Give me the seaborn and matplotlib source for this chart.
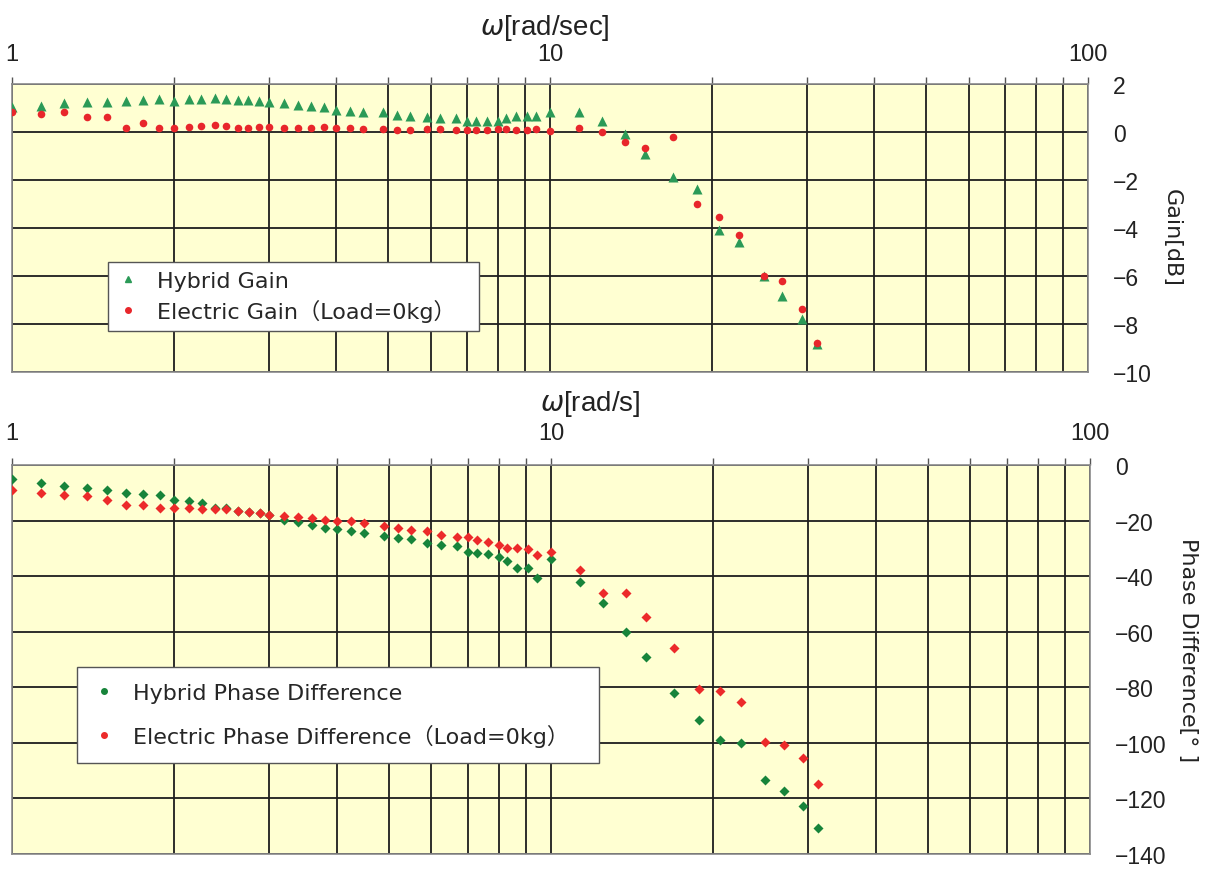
import matplotlib
matplotlib.use("Agg")
import matplotlib.pyplot as plt
from matplotlib.lines import Line2D
from matplotlib.ticker import FixedLocator, NullFormatter, FixedFormatter
import numpy as np
import pandas as pd
import seaborn as sns

# Angular frequency of each measurement [rad/s]
omega = [1.0, 1.13, 1.25, 1.38, 1.5, 1.63, 1.75, 1.88, 2.0, 2.13, 2.25, 2.38, 2.5,
         2.63, 2.75, 2.88, 3.0, 3.2, 3.4, 3.6, 3.8, 4.0, 4.25, 4.5, 4.9, 5.2, 5.5,
         5.9, 6.25, 6.7, 7.0, 7.3, 7.65, 8.0, 8.3, 8.65, 9.05, 9.4, 10.0, 11.3,
         12.5, 13.8, 15.0, 16.9, 18.8, 20.6, 22.5, 25.0, 27.0, 29.4, 31.3]

# Gain [dB]
hybrid_gain = [1.03, 1.10, 1.21, 1.26, 1.26, 1.28, 1.33, 1.37, 1.30, 1.37, 1.37, 1.42,
               1.37, 1.35, 1.33, 1.30, 1.26, 1.21, 1.12, 1.10, 1.05, 0.93, 0.86, 0.82,
               0.82, 0.70, 0.68, 0.61, 0.57, 0.57, 0.47, 0.47, 0.47, 0.47, 0.57, 0.65,
               0.65, 0.65, 0.82, 0.82, 0.44, -0.08, -0.92, -1.86, -2.37, -4.07, -4.60,
               -6.00, -6.85, -7.79, -8.83]
electric_gain = [0.82, 0.75, 0.82, 0.64, 0.61, 0.15, 0.37, 0.15, 0.15, 0.20, 0.26, 0.30,
                 0.26, 0.15, 0.15, 0.20, 0.22, 0.15, 0.15, 0.15, 0.20, 0.15, 0.15, 0.12,
                 0.12, 0.10, 0.10, 0.12, 0.12, 0.10, 0.10, 0.10, 0.10, 0.12, 0.12, 0.10,
                 0.10, 0.12, 0.05, 0.15, 0.01, -0.40, -0.68, -0.22, -3.00, -3.53, -4.28,
                 -6.01, -6.19, -7.37, -8.79]

# Phase difference [deg]
hybrid_phase = [-5.2, -6.4, -7.6, -8.2, -9.1, -10.2, -10.6, -10.9, -12.7, -12.9, -13.5,
                -15.3, -15.6, -16.6, -16.8, -17.4, -18.0, -19.8, -20.6, -21.6, -22.5,
                -23.1, -23.8, -24.5, -25.7, -26.3, -26.6, -28.1, -28.7, -29.2, -31.3,
                -31.6, -31.9, -33.0, -34.5, -37.2, -36.9, -40.5, -34.0, -42.2, -49.6,
                -60.1, -69.2, -81.9, -91.8, -99.1, -100.1, -113.3, -117.3, -122.6, -130.7]
electric_phase = [-8.9, -10.2, -10.9, -11.3, -12.7, -14.5, -14.5, -15.3, -15.3, -15.6,
                  -15.9, -15.9, -15.9, -16.6, -16.8, -17.4, -18.0, -18.2, -18.6, -18.9,
                  -19.8, -20.1, -20.0, -21.0, -21.8, -22.7, -23.3, -23.6, -25.3, -25.9,
                  -25.9, -27.1, -27.7, -28.9, -29.8, -29.7, -30.1, -32.5, -31.3, -37.8,
                  -46.1, -45.9, -54.6, -65.7, -80.7, -81.3, -85.2, -99.8, -100.9, -105.4,
                  -114.9]

gain_ticks = [2, 0, -2, -4, -6, -8, -10]
phase_ticks = [0, -20, -40, -60, -80, -100, -120, -140]
x_major = [1, 10, 100]
x_major_labels = ["1", "10", "100"]

df = pd.DataFrame({
    "omega": omega,
    "hybrid_gain": hybrid_gain,
    "electric_gain": electric_gain,
    "hybrid_phase": hybrid_phase,
    "electric_phase": electric_phase,
})

sns.set_theme(style="white")
plt.rcParams["font.family"] = ["Liberation Sans", "DejaVu Sans"]
plt.rcParams["axes.unicode_minus"] = True

W, H = 1210, 870
fig = plt.figure(figsize=(W / 100, H / 100), dpi=100)
fig.patch.set_facecolor("white")


def px_axes(left, top, right, bottom):
    return fig.add_axes([left / W, 1 - bottom / H, (right - left) / W, (bottom - top) / H])


ax1 = px_axes(12, 85, 1088, 373)
ax2 = px_axes(12, 466, 1090, 855)

minor_x = [v * d for d in (1, 10) for v in range(2, 10)]
wide = ["DejaVu Sans", "Noto Sans CJK JP"]

for ax, yticks, pad_top in ((ax1, gain_ticks, 9), (ax2, phase_ticks, 10)):
    ax.set_facecolor("#FFFFD2")
    ax.set_xscale("log")
    ax.set_xlim(1, 100)
    ax.set_ylim(min(yticks), max(yticks))
    ax.xaxis.set_major_locator(FixedLocator(x_major))
    ax.xaxis.set_major_formatter(FixedFormatter(x_major_labels))
    ax.xaxis.set_minor_locator(FixedLocator(minor_x))
    ax.xaxis.set_minor_formatter(NullFormatter())
    ax.xaxis.tick_top()
    ax.tick_params(axis="x", which="both", top=True, bottom=False, labeltop=True,
                   labelbottom=False, direction="out", length=5, width=1,
                   color="#555555", pad=pad_top, labelsize=17, labelcolor="#222222")
    ax.set_yticks(yticks)
    ax.yaxis.tick_right()
    ax.tick_params(axis="y", which="both", right=False, left=False, labelright=True,
                   labelleft=False, pad=12, labelsize=16.5, labelcolor="#222222")
    ax.grid(True, axis="x", which="both", color="#1e1e1e", lw=1.3)
    ax.grid(True, axis="y", which="major", color="#1e1e1e", lw=1.3)
    ax.set_axisbelow(True)
    for sp in ax.spines.values():
        sp.set_color("#8a8a8a")
        sp.set_linewidth(1.2)

# Gain panel
sns.scatterplot(data=df, x="omega", y="hybrid_gain", ax=ax1, marker="^", s=52,
                color="#2B9A57", linewidth=0, legend=False, zorder=3)
sns.scatterplot(data=df, x="omega", y="electric_gain", ax=ax1, marker="o", s=30,
                color="#E8262B", linewidth=0, legend=False, zorder=4)

# Phase panel
sns.scatterplot(data=df, x="omega", y="hybrid_phase", ax=ax2, marker="D", s=26,
                color="#17843A", linewidth=0, legend=False, zorder=3)
sns.scatterplot(data=df, x="omega", y="electric_phase", ax=ax2, marker="D", s=26,
                color="#EC2A2A", linewidth=0, legend=False, zorder=4)

for ax in (ax1, ax2):
    ax.set_xlabel("")
    ax.set_ylabel("")

# Legends
h1 = [Line2D([], [], ls="", marker="^", ms=5, color="#2B9A57"),
      Line2D([], [], ls="", marker="o", ms=4, color="#E8262B")]
leg1 = ax1.legend(h1, ["Hybrid Gain", "Electric Gain（Load=0kg）"],
                  loc="upper left", bbox_to_anchor=(0.089, 0.142, 0.345, 0.24),
                  mode="expand", frameon=True, fancybox=False,
                  framealpha=1, edgecolor="#555555", labelspacing=0.35,
                  handlelength=1.0, handletextpad=0.8, borderpad=0.4,
                  borderaxespad=0, prop={"family": wide, "size": 16})
leg1.get_frame().set_linewidth(1.0)

h2 = [Line2D([], [], ls="", marker="o", ms=4, color="#17843A"),
      Line2D([], [], ls="", marker="o", ms=4, color="#EC2A2A")]
leg2 = ax2.legend(h2, ["Hybrid Phase Difference", "Electric Phase Difference（Load=0kg）"],
                  loc="upper left", bbox_to_anchor=(0.0603, 0.228, 0.484, 0.252),
                  mode="expand", frameon=True, fancybox=False,
                  framealpha=1, edgecolor="#555555", labelspacing=0.95,
                  handlelength=1.0, handletextpad=0.8, borderpad=0.7,
                  borderaxespad=0, prop={"family": wide, "size": 16})
leg2.get_frame().set_linewidth(1.0)

# Axis titles
fig.text(545 / W, 1 - 28 / H, r"$\omega$[rad/sec]", ha="center", va="center",
         fontsize=20, color="#222222")
fig.text(590 / W, 1 - 404 / H, r"$\omega$[rad/s]", ha="center", va="center",
         fontsize=20, color="#222222")
fig.text(1172 / W, 1 - 238 / H, "Gain[dB]", rotation=270, ha="center", va="center",
         fontsize=16, family=wide, color="#222222")
fig.text(1188 / W, 1 - 650 / H, "Phase Difference[° ]", rotation=270, ha="center",
         va="center", fontsize=16, family=wide, color="#222222")

fig.savefig("out.png", dpi=100)
